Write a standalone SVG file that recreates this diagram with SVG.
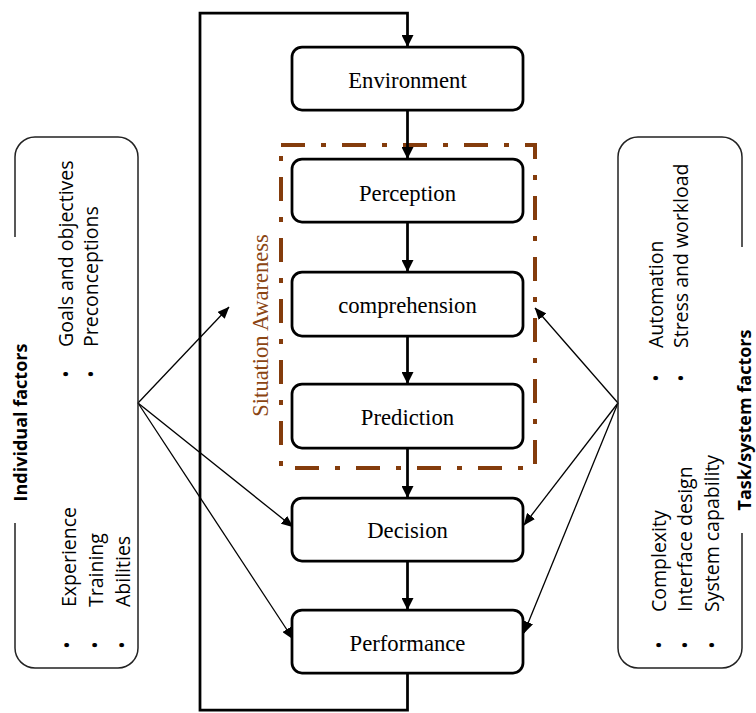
<svg xmlns="http://www.w3.org/2000/svg" width="756" height="713" viewBox="0 0 756 713">
<style>
.box{fill:#fff;stroke:#000;stroke-width:2.75}
.lbl{font-family:"Liberation Serif","Times New Roman",serif;font-size:22.7px;fill:#000;text-anchor:middle}
.panel{fill:none;stroke:#222;stroke-width:1.5}
.itm{font-family:"Open Sans","Noto Sans",sans-serif;font-size:19.5px;fill:#000}
.bul{font-family:"Open Sans","Noto Sans",sans-serif;font-size:19.5px;fill:#000;text-anchor:middle}
.ttl{font-family:"Open Sans","Noto Sans",sans-serif;font-size:18px;font-weight:bold;fill:#000;text-anchor:middle}
.main{fill:none;stroke:#000;stroke-width:2.75}
.fan{fill:none;stroke:#000;stroke-width:1.3}
.sa{fill:none;stroke:#843C0C;stroke-width:4;stroke-dasharray:24 16 5 16}
.satxt{font-family:"Liberation Serif","Times New Roman",serif;font-size:22.5px;fill:#8B4513;text-anchor:middle}
</style>
<defs>
<marker id="ah" viewBox="0 0 12 12" refX="11" refY="6" markerWidth="12" markerHeight="12" markerUnits="userSpaceOnUse" orient="auto"><path d="M0,0 L12,6 L0,12 z" fill="#000"/></marker>
<marker id="as" viewBox="0 0 12 10" refX="11.5" refY="5" markerWidth="12" markerHeight="10" markerUnits="userSpaceOnUse" orient="auto"><path d="M0,0 L12,5 L0,10 z" fill="#000"/></marker>
</defs>
<rect width="756" height="713" fill="#fff"/>

<g id="situation-awareness">
<rect class="sa" x="281" y="145" width="254" height="323"/>
<text class="satxt" transform="translate(268,325.5) rotate(-90)">Situation Awareness</text>
</g>

<g id="connectors">
<path class="main" d="M407.5,673 V710 H200 V13 H407.5 V46" marker-end="url(#ah)"/>
<line class="main" x1="407.5" y1="110" x2="407.5" y2="158" marker-end="url(#ah)"/>
<line class="main" x1="407.5" y1="222" x2="407.5" y2="271" marker-end="url(#ah)"/>
<line class="main" x1="407.5" y1="336" x2="407.5" y2="383" marker-end="url(#ah)"/>
<line class="main" x1="407.5" y1="448" x2="407.5" y2="497" marker-end="url(#ah)"/>
<line class="main" x1="407.5" y1="561" x2="407.5" y2="609" marker-end="url(#ah)"/>
<line class="fan" x1="138" y1="403" x2="229" y2="307" marker-end="url(#as)"/>
<line class="fan" x1="138" y1="403" x2="293" y2="527" marker-end="url(#as)"/>
<line class="fan" x1="138" y1="403" x2="293" y2="639" marker-end="url(#as)"/>
<line class="fan" x1="618" y1="403" x2="535" y2="308" marker-end="url(#as)"/>
<line class="fan" x1="618" y1="403" x2="524" y2="525" marker-end="url(#as)"/>
<line class="fan" x1="618" y1="403" x2="524" y2="633" marker-end="url(#as)"/>
</g>

<g id="environment"><rect class="box" x="292" y="47" width="231" height="63" rx="10"/><text class="lbl" x="407.5" y="88">Environment</text></g>
<g id="perception"><rect class="box" x="292" y="159" width="231" height="63" rx="10"/><text class="lbl" x="407.5" y="201">Perception</text></g>
<g id="comprehension"><rect class="box" x="292" y="272" width="231" height="64" rx="10"/><text class="lbl" x="407.5" y="313">comprehension</text></g>
<g id="prediction"><rect class="box" x="292" y="384" width="231" height="64" rx="10"/><text class="lbl" x="407.5" y="425">Prediction</text></g>
<g id="decision"><rect class="box" x="292" y="498" width="231" height="63" rx="10"/><text class="lbl" x="407.5" y="538">Decision</text></g>
<g id="performance"><rect class="box" x="292" y="610" width="231" height="63" rx="10"/><text class="lbl" x="407.5" y="651">Performance</text></g>

<g id="individual-factors">
<path class="panel" d="M15,237 V157 A20,20 0 0 1 35,137 H118 A20,20 0 0 1 138,157 V648 A20,20 0 0 1 118,668 H35 A20,20 0 0 1 15,648 V523"/>
<text class="ttl" transform="translate(27,422.5) rotate(-90)">Individual factors</text>
<text class="bul" transform="translate(73,374) rotate(-90)">•</text>
<text class="itm" transform="translate(73,347) rotate(-90)">Goals and objectives</text>
<text class="bul" transform="translate(98,374) rotate(-90)">•</text>
<text class="itm" transform="translate(98,347) rotate(-90)">Preconceptions</text>
<text class="bul" transform="translate(74,645) rotate(-90)">•</text>
<text class="itm" transform="translate(76,607) rotate(-90)">Experience</text>
<text class="bul" transform="translate(102,645) rotate(-90)">•</text>
<text class="itm" transform="translate(103,607) rotate(-90)">Training</text>
<text class="bul" transform="translate(129,645) rotate(-90)">•</text>
<text class="itm" transform="translate(130,607) rotate(-90)">Abilities</text>
</g>

<g id="task-system-factors">
<path class="panel" d="M742,247 V157 A20,20 0 0 0 722,137 H638 A20,20 0 0 0 618,157 V648 A20,20 0 0 0 638,668 H722 A20,20 0 0 0 742,648 V533"/>
<text class="ttl" transform="translate(751,420) rotate(-90)">Task/system factors</text>
<text class="bul" transform="translate(663,378) rotate(-90)">•</text>
<text class="itm" transform="translate(663,348) rotate(-90)">Automation</text>
<text class="bul" transform="translate(688,378) rotate(-90)">•</text>
<text class="itm" transform="translate(688,348) rotate(-90)">Stress and workload</text>
<text class="bul" transform="translate(666,645) rotate(-90)">•</text>
<text class="itm" transform="translate(666,612) rotate(-90)">Complexity</text>
<text class="bul" transform="translate(692,645) rotate(-90)">•</text>
<text class="itm" transform="translate(692,612) rotate(-90)">Interface design</text>
<text class="bul" transform="translate(719,645) rotate(-90)">•</text>
<text class="itm" transform="translate(719,612) rotate(-90)">System capability</text>
</g>
</svg>
